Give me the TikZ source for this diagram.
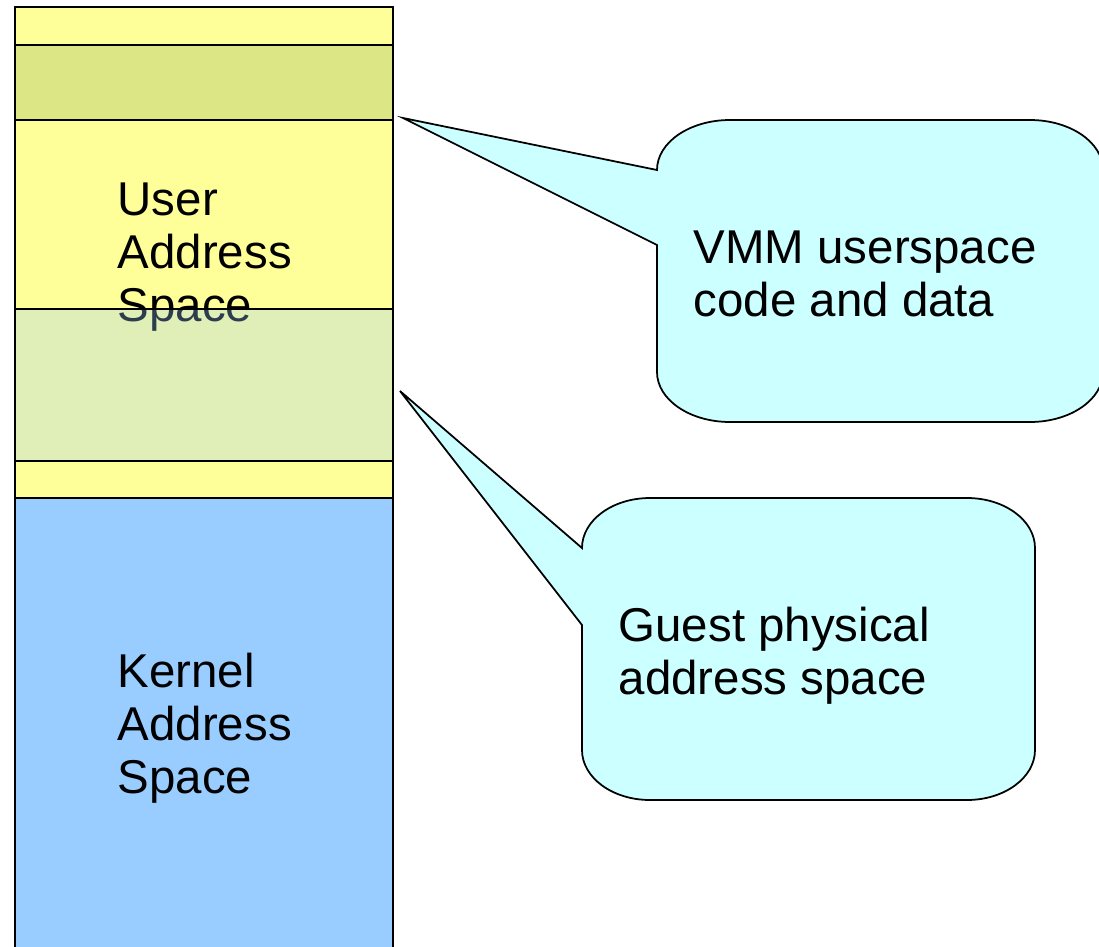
\documentclass[tikz,border=0pt]{standalone}
\usepackage{fontspec}
\setmainfont{Liberation Sans}
\definecolor{lowyellow}{HTML}{FFFF99}
\definecolor{oliveband}{HTML}{DDE685}
\definecolor{kernblue}{HTML}{99CCFF}
\definecolor{bubble}{HTML}{CCFFFF}

\begin{document}
\begin{tikzpicture}[scale=1,
  band/.style={draw=black, line width=0.6pt},
  lbl/.style={inner sep=0pt, anchor=north west, align=left, font=\fontsize{13.5pt}{15.1pt}\selectfont},
  callout/.style={draw=black, fill=bubble, line width=0.5pt, line join=miter}]
\useasboundingbox (0,0) rectangle (10.99,-9.46);

\fill[kernblue] (0.15,-4.98) rectangle (3.93,-9.70);
\fill[lowyellow] (0.15,-0.07) rectangle (3.93,-4.98);
\fill[oliveband] (0.15,-0.45) rectangle (3.93,-1.20);

\node[lbl] (U) at (1.17,-1.82) {User\\Address\\Space};
\node[lbl] (K) at (1.17,-6.52) {Kernel\\Address\\Space};

\fill[kernblue, fill opacity=0.3] (0.15,-3.09) rectangle (3.93,-4.61);

\draw[band] (0.15,-0.45) -- (3.93,-0.45);
\draw[band] (0.15,-1.20) -- (3.93,-1.20);
\draw[band] (0.15,-3.09) -- (3.93,-3.09);
\draw[band] (0.15,-4.61) -- (3.93,-4.61);
\draw[band] (0.15,-4.98) -- (3.93,-4.98);
\draw[band] (0.15,-9.70) -- (0.15,-0.07) -- (3.93,-0.07) -- (3.93,-9.70);

\coordinate (tipU) at (4.03,-1.18);
\coordinate (tipG) at (4.00,-3.91);

\draw[callout] (6.57,-2.45) -- (tipU) -- (6.57,-1.70)
  arc[start angle=180, end angle=90, x radius=0.73, y radius=0.5] -- (10.30,-1.20)
  arc[start angle=90, end angle=0, x radius=0.73, y radius=0.5] -- (11.03,-3.72)
  arc[start angle=0, end angle=-90, x radius=0.73, y radius=0.5] -- (7.30,-4.22)
  arc[start angle=-90, end angle=-180, x radius=0.73, y radius=0.5] -- cycle;

\draw[callout] (5.82,-6.25) -- (tipG) -- (5.82,-5.48)
  arc[start angle=180, end angle=90, x radius=0.68, y radius=0.5] -- (9.67,-4.98)
  arc[start angle=90, end angle=0, x radius=0.68, y radius=0.5] -- (10.35,-7.50)
  arc[start angle=0, end angle=-90, x radius=0.68, y radius=0.5] -- (6.50,-8.00)
  arc[start angle=-90, end angle=-180, x radius=0.68, y radius=0.5] -- cycle;

\node[lbl] (V) at (6.93,-2.30) {VMM userspace\\code and data};
\node[lbl] (G) at (6.18,-6.06) {Guest physical\\address space};
\end{tikzpicture}
\end{document}
